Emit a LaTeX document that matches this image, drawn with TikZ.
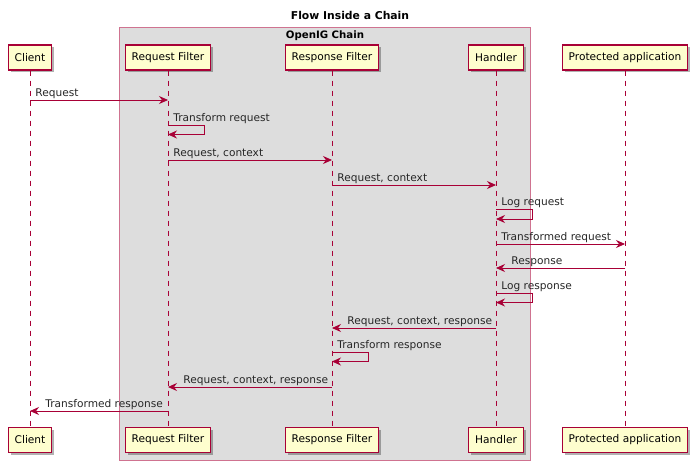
\documentclass[tikz,border=0pt]{standalone}
\usepackage{fontspec}
\setmainfont{DejaVu Sans}
\usepackage{tikz}
\usetikzlibrary{positioning}
\usetikzlibrary{arrows.meta}
\usetikzlibrary{shadows}
\definecolor{umlred}{HTML}{A80036}
\definecolor{umlbox}{HTML}{FEFECE}
\definecolor{umlgroup}{HTML}{DDDDDD}
\tikzset{actor box/.style={rectangle,draw=umlred,fill=umlbox,line width=1.2pt,minimum height=25pt,inner xsep=6.5pt,font=\fontsize{10.6}{12}\selectfont,drop shadow={shadow xshift=2.5pt,shadow yshift=-2.5pt,opacity=0.3,fill=black}},
  life line/.style={draw=umlred,dash pattern=on 5pt off 5pt,line width=0.8pt},
  msg/.style={draw=umlred,line width=0.8pt,-{Stealth[length=9pt,width=8pt,inset=3pt]}},
  msg label/.style={font=\fontsize{10.6}{12}\selectfont,text=black!85,inner sep=1pt,anchor=south west},
}

\begin{document}
\begin{tikzpicture}[x=1pt,y=-1pt]
    \useasboundingbox (0,0) rectangle (700,468);

    % title and group
    \node[font=\fontsize{10.8}{13}\selectfont\bfseries] (title) at (350,15) {Flow Inside a Chain};
    \draw[draw=umlred!55,fill=umlgroup,line width=1pt] (119,28) rectangle (530,460);
    \node[font=\fontsize{10.2}{12}\selectfont\bfseries] (chain) at (325,35.5) {OpenIG Chain};

    % participants
    \node[actor box] (client) at (30,57.5) {Client};
    \node[actor box] (reqf) at (168,57.5) {Request Filter};
    \node[actor box] (respf) at (332,57.5) {Response Filter};
    \node[actor box] (handler) at (496,57.5) {Handler};
    \node[actor box] (prot) at (625,57.5) {Protected application};

    \node[actor box] (client end) at (30,440) {Client};
    \node[actor box] (reqf end) at (168,440) {Request Filter};
    \node[actor box] (respf end) at (332,440) {Response Filter};
    \node[actor box] (handler end) at (496,440) {Handler};
    \node[actor box] (prot end) at (625,440) {Protected application};

    % lifelines
    \path[life line]
    (client) edge (client end)
    (reqf) edge (reqf end)
    (respf) edge (respf end)
    (handler) edge (handler end)
    (prot) edge (prot end);

    % messages
    \draw[msg] (client |- 0,100) -- node[msg label,at start,xshift=4pt] {Request} (reqf |- 0,100);
    \draw[msg] (reqf |- 0,125) -- node[msg label,at start,xshift=4pt] {Transform request} ++(36,0) -- ++(0,9.5) -- ++(-36,0);
    \draw[msg] (reqf |- 0,160) -- node[msg label,at start,xshift=4pt] {Request, context} (respf |- 0,160);
    \draw[msg] (respf |- 0,185) -- node[msg label,at start,xshift=4pt] {Request, context} (handler |- 0,185);
    \draw[msg] (handler |- 0,209.5) -- node[msg label,at start,xshift=4pt] {Log request} ++(36,0) -- ++(0,9.5) -- ++(-36,0);
    \draw[msg] (handler |- 0,244) -- node[msg label,at start,xshift=4pt] {Transformed request} (prot |- 0,244);
    \draw[msg] (prot |- 0,268) -- (handler |- 0,268) node[msg label,xshift=14pt] {Response};
    \draw[msg] (handler |- 0,293) -- node[msg label,at start,xshift=4pt] {Log response} ++(36,0) -- ++(0,9.5) -- ++(-36,0);
    \draw[msg] (handler |- 0,328) -- (respf |- 0,328) node[msg label,xshift=14pt] {Request, context, response};
    \draw[msg] (respf |- 0,352) -- node[msg label,at start,xshift=4pt] {Transform response} ++(36,0) -- ++(0,9.5) -- ++(-36,0);
    \draw[msg] (respf |- 0,387) -- (reqf |- 0,387) node[msg label,xshift=14pt] {Request, context, response};
    \draw[msg] (reqf |- 0,411) -- (client |- 0,411) node[msg label,xshift=14pt] {Transformed response};
\end{tikzpicture}
\end{document}
